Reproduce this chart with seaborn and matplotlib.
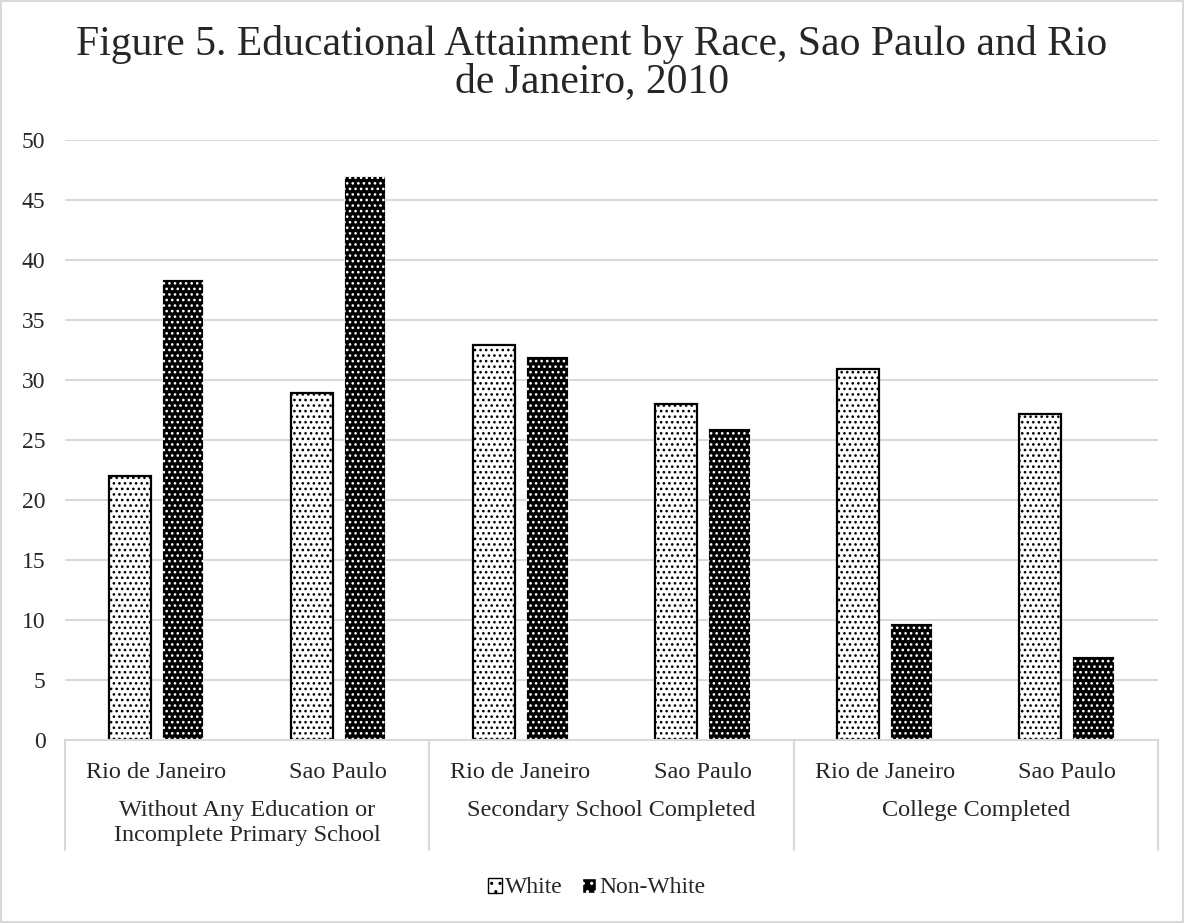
import matplotlib
matplotlib.use("Agg")
import matplotlib.pyplot as plt
import matplotlib.transforms as mtransforms
from matplotlib.patches import Patch, Rectangle
import seaborn as sns
import pandas as pd

# Education levels (outer category), cities (inner category) and shares by race
groups = ["Without Any Education or\nIncomplete Primary School",
          "Secondary School Completed",
          "College Completed"]
cities = ["Rio de Janeiro", "Sao Paulo"]
races = ["White", "Non-White"]
white = [22.0, 28.9, 32.9, 28.0, 30.9, 27.2]
non_white = [38.4, 47.0, 32.0, 26.0, 9.8, 7.0]
y_ticks = [0, 5, 10, 15, 20, 25, 30, 35, 40, 45, 50]
title = "Figure 5. Educational Attainment by Race, Sao Paulo and Rio\nde Janeiro, 2010"

rows = []
keys = []
for gi, g in enumerate(groups):
    for ci, c in enumerate(cities):
        k = f"{gi}|{c}"
        keys.append(k)
        idx = gi * len(cities) + ci
        rows.append({"slot": k, "race": races[0], "pct": white[idx]})
        rows.append({"slot": k, "race": races[1], "pct": non_white[idx]})
df = pd.DataFrame(rows)

sns.set_style("white")
plt.rcParams["font.family"] = ["Liberation Serif", "DejaVu Serif"]
plt.rcParams["hatch.linewidth"] = 1.1

fig = plt.figure(figsize=(11.84, 9.23), dpi=100)
ax = fig.add_axes([0.0549, 0.198, 0.923, 0.650])

ax = sns.barplot(data=df, x="slot", y="pct", hue="race", order=keys,
                 hue_order=races, width=0.58, gap=0.21, legend=False, ax=ax,
                 palette=["white", "black"])

styles = {
    "White": dict(facecolor="white", edgecolor="black", hatch="...", lw=1.6),
    "Non-White": dict(facecolor="black", edgecolor="white", hatch="...", lw=0.6),
}
for container, race in zip(ax.containers, races):
    st = styles[race]
    for bar in container:
        bar.set_facecolor(st["facecolor"])
        bar.set_edgecolor(st["edgecolor"])
        bar.set_hatch(st["hatch"])
        bar.set_linewidth(st["lw"])

grid_c = "#d9d9d9"
ax.set_ylim(0, 50)
ax.set_xlim(-0.5, len(keys) - 0.5)
ax.set_yticks(y_ticks)
ax.set_yticklabels([str(t) for t in y_ticks], fontsize=17)
ax.yaxis.grid(True, color=grid_c, lw=1.5)
ax.set_axisbelow(True)
ax.set_xticks(range(len(keys)))
ax.set_xticklabels([k.split("|")[1] for k in keys], fontsize=17.5)
ax.tick_params(axis="both", length=0)
ax.tick_params(axis="x", pad=16)
ax.tick_params(axis="y", pad=14)
ax.set_xlabel("")
ax.set_ylabel("")
for side in ["left", "right", "top"]:
    ax.spines[side].set_visible(False)
ax.spines["bottom"].set_color(grid_c)
ax.spines["bottom"].set_linewidth(1.5)

# Outer category axis: separators and group labels
trans = mtransforms.blended_transform_factory(ax.transData, ax.transAxes)
n_in = len(cities)
for b in range(len(groups) + 1):
    xb = b * n_in - 0.5
    ax.plot([xb, xb], [0, -0.183], transform=trans, color=grid_c, lw=1.5,
            clip_on=False)
for gi, g in enumerate(groups):
    xc = gi * n_in + (n_in - 1) / 2
    ax.text(xc, -0.099, g, transform=trans, ha="center", va="top",
            fontsize=17.5, linespacing=1.3)

fig.suptitle(title, fontsize=30, y=0.973, linespacing=0.97)

handles = [Patch(facecolor=styles[r]["facecolor"], edgecolor=styles[r]["edgecolor"],
                 hatch="..", lw=1.0, label=r) for r in races]
fig.legend(handles=handles, loc="center", bbox_to_anchor=(0.504, 0.038), ncol=2,
           frameon=False, fontsize=17, handlelength=0.6, handleheight=0.6,
           handletextpad=0.15, columnspacing=0.8)

fig.add_artist(Rectangle((0.001, 0.001), 0.998, 0.998, transform=fig.transFigure,
                         fill=False, edgecolor="#d9d9d9", lw=1.5))

fig.savefig("out.png", dpi=100)
